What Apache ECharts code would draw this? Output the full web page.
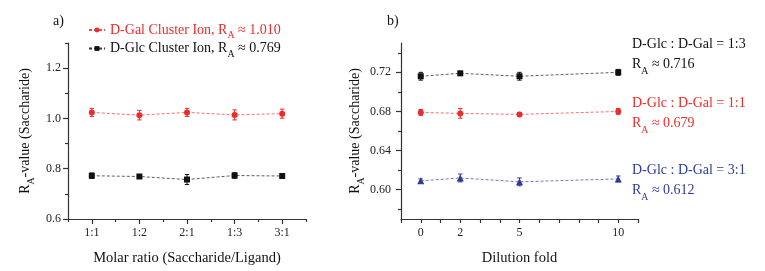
<!DOCTYPE html>
<html>
<head>
<meta charset="utf-8">
<script src="https://cdn.jsdelivr.net/npm/echarts@6/dist/echarts.min.js"></script>
<style>
	html, body { margin: 0; padding: 0; background: #fff; }
	#chart { width: 765px; height: 271px; }
</style>
</head>
<body>
<div id="chart"></div>
<script>
// panel a) molar ratio
const ratios = [ '1:1', '1:2', '2:1', '1:3', '3:1' ];
const galValues = [ 1.024, 1.013, 1.024, 1.014, 1.019 ];
const galErrors = [ 0.016, 0.019, 0.016, 0.020, 0.018 ];
const glcValues = [ 0.772, 0.769, 0.757, 0.773, 0.771 ];
const glcErrors = [ 0.011, 0.005, 0.020, 0.011, 0.005 ];
const ticksA = [ 0.6, 0.8, 1.0, 1.2 ];
const minorTicksA = [ 0.7, 0.9, 1.1, 1.3 ];

// panel b) dilution fold
const dilution = [ 0, 2, 5, 10 ];
const mix13Values = [ 0.716, 0.719, 0.716, 0.720 ];
const mix13Errors = [ 0.004, 0.002, 0.004, 0.003 ];
const mix11Values = [ 0.679, 0.678, 0.677, 0.680 ];
const mix11Errors = [ 0.003, 0.005, 0.002, 0.003 ];
const mix31Values = [ 0.609, 0.612, 0.608, 0.611 ];
const mix31Errors = [ 0.002, 0.004, 0.004, 0.003 ];
const ticksB = [ 0.60, 0.64, 0.68, 0.72 ];
const minorTicksB = [ 0.58, 0.62, 0.66, 0.70, 0.74 ];

const FONT = 'Liberation Serif';
const RED = '#ee2b2b';
const BLACK = '#111111';
const BLUE = '#2f3a9c';
const AXIS = '#333333';

const subRich = function ( size, lineHeight ) {
	return {
		t: { fontFamily: FONT, fontSize: size, lineHeight: lineHeight || size + 3 },
		s: { fontFamily: FONT, fontSize: size * 0.7, lineHeight: size * 0.7, verticalAlign: 'bottom', padding: [ 0, 0, -2, 0 ] }
	};
};

const pairs = function ( xs, ys ) {
	return ys.map( ( v, i ) => [ xs[ i ], v ] );
};

const errorData = function ( xs, ys, es ) {
	return ys.map( ( v, i ) => [ xs[ i ], v - es[ i ], v + es[ i ] ] );
};

const errorSeries = function ( data, color, xAxisIndex, yAxisIndex ) {
	return {
		type: 'custom',
		xAxisIndex: xAxisIndex,
		yAxisIndex: yAxisIndex,
		silent: true,
		z: 3,
		data: data,
		renderItem: function ( params, api ) {
			const lo = api.coord( [ api.value( 0 ), api.value( 1 ) ] );
			const hi = api.coord( [ api.value( 0 ), api.value( 2 ) ] );
			const w = 2.2;
			const style = { stroke: color, lineWidth: 1 };
			return {
				type: 'group',
				children: [
					{ type: 'line', shape: { x1: lo[ 0 ], y1: lo[ 1 ], x2: hi[ 0 ], y2: hi[ 1 ] }, style: style },
					{ type: 'line', shape: { x1: lo[ 0 ] - w, y1: lo[ 1 ], x2: lo[ 0 ] + w, y2: lo[ 1 ] }, style: style },
					{ type: 'line', shape: { x1: hi[ 0 ] - w, y1: hi[ 1 ], x2: hi[ 0 ] + w, y2: hi[ 1 ] }, style: style }
				]
			};
		}
	};
};

const lineSeries = function ( name, data, color, symbol, xAxisIndex, yAxisIndex ) {
	return {
		name: name,
		type: 'line',
		xAxisIndex: xAxisIndex,
		yAxisIndex: yAxisIndex,
		data: data,
		symbol: symbol,
		symbolSize: symbol === 'triangle' ? 7 : 6,
		z: 4,
		itemStyle: { color: color },
		lineStyle: { color: color, width: 0.8, type: [ 3, 2 ], opacity: 0.85 }
	};
};

const axisLineStyle = { show: true, onZero: false, lineStyle: { color: AXIS, width: 1.2 } };
const tickStyle = { color: AXIS, width: 1.2 };
const labelStyle = { fontFamily: FONT, fontSize: 12, color: '#222' };
const nameStyle = { fontFamily: FONT, fontSize: 14.5, color: '#111', rich: subRich( 14 ) };
const idx = ratios.map( ( r, i ) => i );

// overlay axis that only draws the short minor ticks
const minorY = function ( gridIndex, min, max, values ) {
	return {
		type: 'value',
		gridIndex: gridIndex,
		position: 'left',
		min: min,
		max: max,
		splitLine: { show: false },
		axisLine: { show: false, onZero: false },
		axisTick: { show: true, length: 3, customValues: values, lineStyle: tickStyle },
		axisLabel: { show: false }
	};
};

const chart = echarts.init( document.getElementById( 'chart' ) );

chart.setOption( {
	backgroundColor: '#fff',
	animation: false,
	grid: [
		{ left: 68, top: 43, width: 238, height: 176 },
		{ left: 401, top: 43, width: 237, height: 176 }
	],
	legend: {
		orient: 'vertical',
		left: 83,
		top: 18,
		itemWidth: 16,
		itemHeight: 6,
		itemGap: 1,
		data: [
			{ name: 'Gal', textStyle: { color: RED } },
			{ name: 'Glc', textStyle: { color: BLACK } }
		],
		formatter: function ( name ) {
			return name === 'Gal' ?
				'{t|D-Gal Cluster Ion, R}{s|A}{t| ≈ 1.010}' :
				'{t|D-Glc Cluster Ion, R}{s|A}{t| ≈ 0.769}';
		},
		textStyle: { fontFamily: FONT, fontSize: 14, rich: subRich( 14 ) }
	},
	xAxis: [
		{
			type: 'category',
			gridIndex: 0,
			position: 'bottom',
			data: ratios,
			boundaryGap: true,
			axisLine: axisLineStyle,
			axisTick: { show: true, alignWithLabel: true, length: 5, lineStyle: tickStyle },
			axisLabel: Object.assign( { margin: 8 }, labelStyle ),
			name: 'Molar ratio (Saccharide/Ligand)',
			nameLocation: 'middle',
			nameGap: 32,
			nameTextStyle: nameStyle
		},
		{
			type: 'category',
			gridIndex: 0,
			position: 'bottom',
			data: ratios,
			boundaryGap: true,
			axisLine: { show: false, onZero: false },
			axisTick: { show: true, length: 3, lineStyle: tickStyle },
			axisLabel: { show: false }
		},
		{
			type: 'value',
			gridIndex: 1,
			position: 'bottom',
			min: -1,
			max: 11,
			interval: 1,
			splitLine: { show: false },
			axisLine: axisLineStyle,
			axisTick: { show: true, length: 4, lineStyle: tickStyle },
			axisLabel: Object.assign( {
				margin: 8,
				formatter: ( v ) => ( dilution.indexOf( v ) >= 0 ? String( v ) : '' )
			}, labelStyle ),
			name: 'Dilution fold',
			nameLocation: 'middle',
			nameGap: 32,
			nameTextStyle: nameStyle
		}
	],
	yAxis: [
		{
			type: 'value',
			gridIndex: 0,
			position: 'left',
			min: 0.6,
			max: 1.3,
			splitLine: { show: false },
			axisLine: axisLineStyle,
			axisTick: { show: true, length: 5, customValues: ticksA, lineStyle: tickStyle },
			axisLabel: Object.assign( { customValues: ticksA, margin: 7, formatter: ( v ) => v.toFixed( 1 ) }, labelStyle ),
			name: '{t|R}{s|A}{t|-value (Saccharide)}',
			nameLocation: 'middle',
			nameGap: 34,
			nameTextStyle: nameStyle
		},
		minorY( 0, 0.6, 1.3, minorTicksA ),
		{
			type: 'value',
			gridIndex: 1,
			position: 'left',
			min: 0.57,
			max: 0.75,
			splitLine: { show: false },
			axisLine: axisLineStyle,
			axisTick: { show: true, length: 5, customValues: ticksB, lineStyle: tickStyle },
			axisLabel: Object.assign( { customValues: ticksB, margin: 10, formatter: ( v ) => v.toFixed( 2 ) }, labelStyle ),
			name: '{t|R}{s|A}{t|-value (Saccharide)}',
			nameLocation: 'middle',
			nameGap: 36,
			nameTextStyle: nameStyle
		},
		minorY( 1, 0.57, 0.75, minorTicksB )
	],
	graphic: [
		{ type: 'text', left: 53, top: 14, style: { text: 'a)', font: '14px "Liberation Serif"', fill: '#111' } },
		{ type: 'text', left: 387, top: 14, style: { text: 'b)', font: '14px "Liberation Serif"', fill: '#111' } },
		{ type: 'text', left: 632, top: 37, style: { text: '{t|D-Glc : D-Gal = 1:3}\n{t|R}{s|A}{t| ≈ 0.716}', fill: BLACK, rich: subRich( 14, 20 ) } },
		{ type: 'text', left: 632, top: 96, style: { text: '{t|D-Glc : D-Gal = 1:1}\n{t|R}{s|A}{t| ≈ 0.679}', fill: RED, rich: subRich( 14, 20 ) } },
		{ type: 'text', left: 632, top: 163, style: { text: '{t|D-Glc : D-Gal = 3:1}\n{t|R}{s|A}{t| ≈ 0.612}', fill: BLUE, rich: subRich( 14, 20 ) } }
	],
	series: [
		errorSeries( errorData( idx, galValues, galErrors ), RED, 0, 0 ),
		errorSeries( errorData( idx, glcValues, glcErrors ), BLACK, 0, 0 ),
		lineSeries( 'Gal', pairs( idx, galValues ), RED, 'circle', 0, 0 ),
		lineSeries( 'Glc', pairs( idx, glcValues ), BLACK, 'rect', 0, 0 ),
		errorSeries( errorData( dilution, mix13Values, mix13Errors ), BLACK, 2, 2 ),
		errorSeries( errorData( dilution, mix11Values, mix11Errors ), RED, 2, 2 ),
		errorSeries( errorData( dilution, mix31Values, mix31Errors ), BLUE, 2, 2 ),
		lineSeries( '1:3', pairs( dilution, mix13Values ), BLACK, 'rect', 2, 2 ),
		lineSeries( '1:1', pairs( dilution, mix11Values ), RED, 'circle', 2, 2 ),
		lineSeries( '3:1', pairs( dilution, mix31Values ), BLUE, 'triangle', 2, 2 )
	]
} );
</script>
</body>
</html>
